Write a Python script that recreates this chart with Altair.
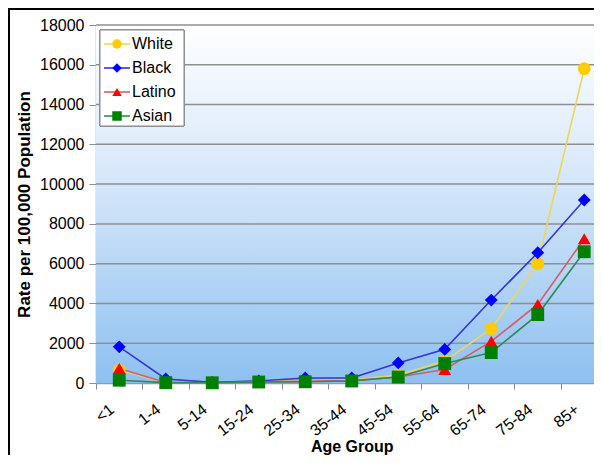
import altair as alt
import pandas as pd

ages = ["<1", "1-4", "5-14", "15-24", "25-34", "35-44", "45-54", "55-64", "65-74", "75-84", "85+"]
races = ["White", "Black", "Latino", "Asian"]
white = [650, 30, 15, 80, 100, 150, 400, 1100, 2730, 6000, 15800]
black = [1820, 200, 30, 100, 250, 250, 1010, 1690, 4170, 6550, 9200]
latino = [730, 30, 15, 60, 80, 120, 300, 680, 2090, 3950, 7250]
asian = [140, 20, 10, 50, 60, 100, 300, 980, 1530, 3440, 6600]
y_ticks = [0, 2000, 4000, 6000, 8000, 10000, 12000, 14000, 16000, 18000]

marker_colors = ["#FFCC00", "#0000FF", "#FF0000", "#008000"]
line_colors = ["#EED65A", "#3535D0", "#D0606A", "#2E8B57"]
shapes = ["circle", "diamond", "triangle-up", "square"]

rows = []
for race, vals in zip(races, [white, black, latino, asian]):
    for a, v in zip(ages, vals):
        rows.append({"race": race, "age": a, "rate": v})
df = pd.DataFrame(rows)
legend_df = pd.DataFrame({"race": races})
grid_df = pd.DataFrame({"v": y_ticks[1:]})

W, H = 498, 358
FONT = "Liberation Sans"

ydomain = [0, 18000]
xenc = alt.X(
    "age:N", sort=ages,
    scale=alt.Scale(type="band", domain=ages, range=[0, 511.5], paddingInner=0, paddingOuter=0),
    axis=alt.Axis(title="Age Group", labelAngle=-38, labelAlign="right", labelBaseline="middle",
                  labelFontSize=16, labelFont=FONT, labelColor="black", labelPadding=18,
                  bandPosition=0, labelOffset=-7, tickSize=6, tickColor="#8a8a8a",
                  domainColor="#8a9ab0", domainWidth=1.5, grid=False,
                  titleFont=FONT, titleFontSize=16, titleFontWeight="bold", titleColor="black",
                  titlePadding=0),
)
color_scale = alt.Scale(domain=races, range=marker_colors)
line_scale = alt.Scale(domain=races, range=line_colors)
shape_scale = alt.Scale(domain=races, range=shapes)

bg = alt.Chart(legend_df).mark_rect(
    fill=alt.Gradient(gradient="linear", x1=0, x2=0, y1=0, y2=1,
                      stops=[alt.GradientStop(color="#ffffff", offset=0),
                             alt.GradientStop(color="#d4e6f9", offset=0.45),
                             alt.GradientStop(color="#8ec0f0", offset=1)])
).encode(x=alt.value(0), x2=alt.value(520), y=alt.value(0), y2=alt.value(H))

grid = alt.Chart(grid_df).mark_rule(color="#8f8f8f", strokeWidth=1.5).encode(
    y=alt.Y("v:Q", scale=alt.Scale(domain=ydomain), axis=None),
    x=alt.value(0), x2=alt.value(520)
)

lines = alt.Chart(df).mark_line(strokeWidth=1.6).encode(
    x=xenc,
    y=alt.Y("rate:Q", scale=alt.Scale(domain=ydomain),
            axis=alt.Axis(title="Rate per 100,000 Population", values=y_ticks, grid=False, format="d",
                          labelFontSize=16, labelFont=FONT, labelColor="black", labelPadding=5,
                          tickSize=7, tickColor="#8a8a8a", domainColor="#9aa6b4", domainWidth=1.5,
                          titleFont=FONT, titleFontSize=17, titleFontWeight="bold", titleColor="black",
                          titlePadding=6)),
    stroke=alt.Stroke("race:N", scale=line_scale, legend=None),
    detail="race:N",
)

points = alt.Chart(df).mark_point(filled=True, opacity=1, size=165).encode(
    x=alt.X("age:N", sort=ages),
    y=alt.Y("rate:Q", scale=alt.Scale(domain=ydomain), axis=None),
    color=alt.Color("race:N", scale=color_scale, legend=None),
    shape=alt.Shape("race:N", scale=shape_scale, legend=None),
)

lg_y = alt.Y("race:N", sort=races, scale=alt.Scale(type="point", domain=races, range=[19, 91], padding=0), axis=None)

lg_box = alt.Chart(legend_df).mark_rect(fill="white", stroke="#8a8a8a", strokeWidth=1).encode(
    x=alt.value(4), x2=alt.value(88), y=alt.value(5), y2=alt.value(101)
)
lg_line = alt.Chart(legend_df).mark_rule(strokeWidth=1.6).encode(
    x=alt.value(8), x2=alt.value(34), y=lg_y,
    stroke=alt.Stroke("race:N", scale=line_scale, legend=None),
)
lg_pt = alt.Chart(legend_df).mark_point(filled=True, opacity=1, size=90).encode(
    x=alt.value(21), y=lg_y,
    color=alt.Color("race:N", scale=color_scale, legend=None),
    shape=alt.Shape("race:N", scale=shape_scale, legend=None),
)
lg_text = alt.Chart(legend_df).mark_text(align="left", baseline="middle", fontSize=16, font=FONT, color="black").encode(
    x=alt.value(36), y=lg_y, text="race:N"
)

frame = alt.Chart(legend_df).mark_rect(fill="transparent", stroke="black", strokeWidth=2).encode(
    x=alt.value(-87), x2=alt.value(1000), y=alt.value(-16), y2=alt.value(1000)
)

chart = alt.layer(bg, grid, lines, points, lg_box, lg_line, lg_pt, lg_text, frame).resolve_scale(
    y="independent"
).properties(
    width=W, height=H, autosize="none",
    padding={"left": 88, "top": 17, "right": 0, "bottom": 72},
).configure_view(stroke=None)

chart.save("out.html", embed_options={"renderer": "svg", "actions": False})
